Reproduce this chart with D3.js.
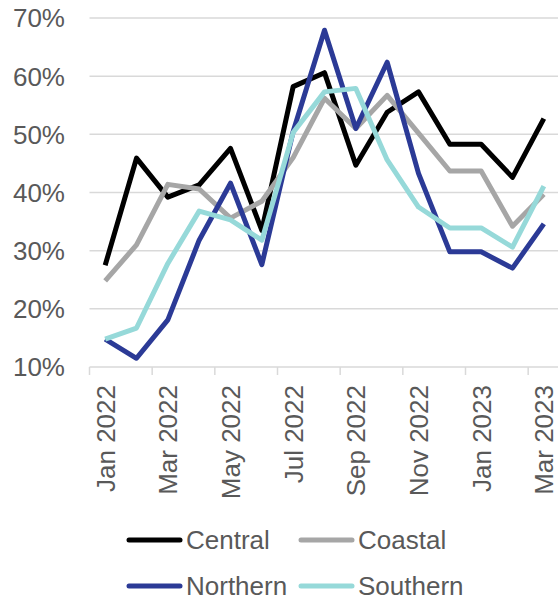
<!DOCTYPE html>
<head>
<meta charset="utf-8">
<script src="https://cdn.jsdelivr.net/npm/d3@7"></script>
<style>
body { margin: 0; background: #fff; }
text { font-family: "Liberation Sans", Arial, sans-serif; fill: #595959; }
.grid line { stroke: #d9d9d9; stroke-width: 1.5; }
.series { fill: none; stroke-width: 5; stroke-linejoin: round; }
</style>
</head>
<body>
<div id="chart"></div>
<script>
// months on the x axis
var months = ["Jan 2022","Feb 2022","Mar 2022","Apr 2022","May 2022","Jun 2022","Jul 2022",
  "Aug 2022","Sep 2022","Oct 2022","Nov 2022","Dec 2022","Jan 2023","Feb 2023","Mar 2023"];

// series values in %
var central  = [27.5, 45.9, 39.2, 41.3, 47.6, 33.5, 58.2, 60.6, 44.7, 53.8, 57.3, 48.3, 48.3, 42.6, 52.7];
var coastal  = [24.8, 31.0, 41.4, 40.6, 35.6, 38.5, 46.0, 56.2, 51.0, 56.7, 50.2, 43.7, 43.7, 34.2, 39.7];
var northern = [14.8, 11.5, 18.1, 31.8, 41.6, 27.6, 50.5, 67.9, 51.0, 62.4, 43.3, 29.8, 29.8, 27.0, 34.6];
var southern = [14.8, 16.7, 27.8, 36.8, 35.3, 31.8, 50.3, 57.3, 57.9, 45.6, 37.5, 33.9, 33.9, 30.6, 41.1];

var yTicks = [10, 20, 30, 40, 50, 60, 70];

var series = [
  {name: "Central",  values: central,  color: "#000000"},
  {name: "Coastal",  values: coastal,  color: "#a6a6a6"},
  {name: "Northern", values: northern, color: "#2b3a96"},
  {name: "Southern", values: southern, color: "#96d9d9"}
];

var width = 558, height = 601;
var plotLeft = 89.5, plotRight = 559.5, plotTop = 18, plotBottom = 367;

var svg = d3.select("#chart").append("svg")
    .attr("width", width)
    .attr("height", height);

var x = d3.scaleBand().domain(months).range([plotLeft, plotRight]).padding(0);
var y = d3.scaleLinear().domain([10, 70]).range([plotBottom, plotTop]);
var cx = function(m) { return x(m) + x.bandwidth() / 2; };

// horizontal gridlines
svg.append("g")
    .attr("class", "grid")
    .selectAll("line")
    .data(yTicks.slice(1))
    .enter().append("line")
    .attr("x1", plotLeft).attr("x2", width)
    .attr("y1", function(d) { return y(d); })
    .attr("y2", function(d) { return y(d); });

// y labels
svg.append("g")
    .selectAll("text")
    .data(yTicks)
    .enter().append("text")
    .attr("x", 65)
    .attr("y", function(d) { return y(d); })
    .attr("dy", "0.36em")
    .attr("text-anchor", "end")
    .style("font-size", "26px")
    .text(function(d) { return d + "%"; });

// x axis line and tick marks (between categories, every 2nd)
var xAxis = svg.append("g").attr("class", "grid");
xAxis.append("line")
    .attr("x1", plotLeft).attr("x2", width)
    .attr("y1", plotBottom).attr("y2", plotBottom);
xAxis.selectAll(".tk")
    .data(months.filter(function(d, i) { return i % 2 === 0; }))
    .enter().append("line")
    .attr("class", "tk")
    .attr("x1", function(d) { return x(d); })
    .attr("x2", function(d) { return x(d); })
    .attr("y1", plotBottom).attr("y2", plotBottom + 8);

// x labels, rotated
xAxis.selectAll("text")
    .data(months.filter(function(d, i) { return i % 2 === 0; }))
    .enter().append("text")
    .attr("transform", function(d) { return "translate(" + cx(d) + "," + 385 + ") rotate(-90)"; })
    .attr("dy", "0.36em")
    .attr("text-anchor", "end")
    .style("font-size", "26px")
    .text(function(d) { return d; });

// lines
var line = d3.line()
    .x(function(d, i) { return cx(months[i]); })
    .y(function(d) { return y(d); });

svg.selectAll(".series")
    .data(series)
    .enter().append("path")
    .attr("class", "series")
    .attr("stroke", function(d) { return d.color; })
    .attr("d", function(d) { return line(d.values); });

// legend
var legendPos = [[127, 540], [299, 540], [127, 586], [299, 586]];
var legend = svg.selectAll(".legend")
    .data(series)
    .enter().append("g")
    .attr("class", "legend")
    .attr("transform", function(d, i) { return "translate(" + legendPos[i][0] + "," + legendPos[i][1] + ")"; });
legend.append("line")
    .attr("x1", 2).attr("x2", 53)
    .attr("stroke", function(d) { return d.color; })
    .attr("stroke-width", 5)
    .attr("stroke-linecap", "round");
legend.append("text")
    .attr("x", 59)
    .attr("dy", "0.36em")
    .style("font-size", "26px")
    .text(function(d) { return d.name; });
</script>
</body>
